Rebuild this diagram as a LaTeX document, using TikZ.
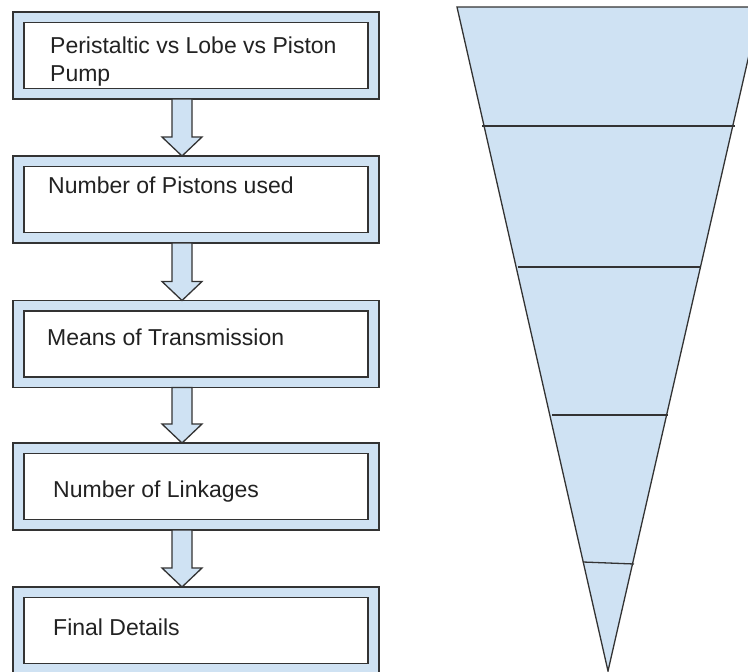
\documentclass[tikz,border=0pt]{standalone}
\usepackage{fontspec}
\setmainfont{Liberation Sans}
\usetikzlibrary{calc}
\definecolor{lblue}{HTML}{CFE2F3}
\definecolor{edge}{HTML}{333333}
\definecolor{txt}{HTML}{222222}
\tikzset{
  outerbox/.style={draw=edge, fill=lblue, line width=1.3pt, minimum width=366pt, minimum height=87pt, inner sep=0pt, outer sep=0pt},
  innerbox/.style={draw=edge, fill=white, line width=1.3pt, minimum width=344pt, minimum height=66pt, inner sep=0pt, outer sep=0pt},
  lbl/.style={anchor=base west, inner sep=0pt, text=txt, font=\fontsize{23pt}{28pt}\selectfont},
  flow/.style={draw=edge, fill=lblue, line width=1.3pt, line join=miter},
  funnel/.style={draw=edge, fill=lblue, line width=1.3pt, line join=miter},
  divider/.style={draw=edge, line width=1.3pt}
}
\begin{document}
\begin{tikzpicture}[x=1pt,y=-1pt]
\useasboundingbox (0,0) rectangle (748,672);
\clip (0,0) rectangle (748,672);
\fill[white] (0,0) rectangle (748,672);

% boxes
\node[outerbox] (b1) at (196,55.5) {};
\node[innerbox] (i1) at (b1.center) {};
\node[outerbox] (b2) at (196,199.5) {};
\node[innerbox] (i2) at (b2.center) {};
\node[outerbox] (b3) at (196,344) {};
\node[innerbox] (i3) at (b3.center) {};
\node[outerbox] (b4) at (196,486.5) {};
\node[innerbox] (i4) at (b4.center) {};
\node[outerbox] (b5) at (196,630.5) {};
\node[innerbox] (i5) at (b5.center) {};

% labels
\node[lbl] (t1a) at (50,53) {Peristaltic vs Lobe vs Piston};
\node[lbl] (t1b) at (50,81) {Pump};
\node[lbl] (t2) at (48,193) {Number of Pistons used};
\node[lbl] (t3) at (47,345) {Means of Transmission};
\node[lbl] (t4) at (53,497) {Number of Linkages};
\node[lbl] (t5) at (53,635) {Final Details};

% block arrows
\foreach \a/\b in {b1/b2, b2/b3, b3/b4, b4/b5}{
  \path[flow]
    ($(\a.south)+(-24,0)$) -- ($(\a.south)+(-4,0)$)
    -- ($(\b.north)+(-4,-19)$) -- ($(\b.north)+(6,-19)$)
    -- ($(\b.north)+(-14,0)$)
    -- ($(\b.north)+(-34,-19)$) -- ($(\b.north)+(-24,-19)$) -- cycle;
}

% funnel
\coordinate (ftl) at (457,7);
\coordinate (ftr) at (760,7);
\coordinate (ftip) at (608,671);
\path[funnel] (ftl) -- (ftr) -- (ftip) -- cycle;
\coordinate (l1a) at (482,126); \coordinate (l1b) at (735,126);
\coordinate (l2a) at (518,267); \coordinate (l2b) at (701,267);
\coordinate (l3a) at (552,415); \coordinate (l3b) at (668,415);
\coordinate (l4a) at (583,562); \coordinate (l4b) at (634,564);
\draw[divider] (l1a) -- (l1b);
\draw[divider] (l2a) -- (l2b);
\draw[divider] (l3a) -- (l3b);
\draw[divider] (l4a) -- (l4b);
\end{tikzpicture}
\end{document}
